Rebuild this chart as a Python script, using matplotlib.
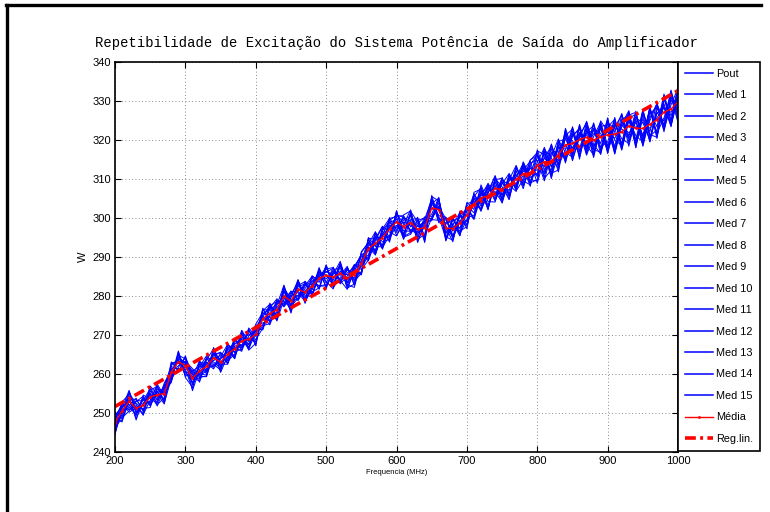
import numpy as np
import matplotlib
matplotlib.use("Agg")
import matplotlib.pyplot as plt
from matplotlib.lines import Line2D

plt.rcParams["font.family"] = ["Liberation Sans", "DejaVu Sans"]

freq = np.arange(200, 1001, 10)  # MHz

pout = [246.0, 251.2, 255.8, 250.1, 253.5, 252.0, 255.3, 253.4, 262.6, 263.5,
        259.8, 259.5, 258.7, 264.4, 263.4, 264.9, 262.9, 267.2, 267.3, 271.3,
        268.1, 274.6, 277.7, 274.0, 281.1, 277.7, 284.1, 279.3, 282.9, 286.3,
        282.4, 285.9, 285.3, 287.6, 282.7, 289.4, 290.5, 296.2, 292.0, 298.2,
        297.4, 300.3, 296.6, 298.6, 300.2, 299.8, 302.8, 299.9, 295.6, 298.8,
        302.9, 299.9, 306.3, 308.1, 305.6, 310.4, 305.8, 310.6, 314.0, 309.0,
        309.8, 318.1, 313.0, 318.8, 314.5, 320.9, 323.1, 317.8, 324.4, 317.2,
        324.9, 318.2, 326.6, 319.5, 324.7, 318.9, 327.3, 323.4, 331.8, 325.1,
        333.0]
med01 = [249.3, 247.7, 253.6, 253.5, 250.6, 254.9, 251.8, 256.5, 259.7, 260.4,
         264.7, 257.2, 262.6, 260.0, 265.6, 260.6, 267.8, 265.4, 269.0, 266.3,
         272.3, 272.4, 272.9, 278.4, 279.3, 280.9, 279.3, 283.0, 281.0, 282.1,
         288.0, 282.4, 288.5, 283.3, 286.7, 285.4, 294.6, 291.6, 296.1, 294.2,
         301.8, 295.9, 301.2, 294.2, 298.0, 304.6, 298.8, 298.4, 299.6, 296.6,
         297.8, 305.2, 301.7, 307.0, 310.6, 304.6, 310.9, 307.0, 309.8, 314.8,
         316.8, 310.4, 318.7, 313.9, 321.5, 314.7, 321.2, 324.4, 316.6, 324.6,
         316.8, 324.7, 319.1, 327.4, 318.7, 325.5, 319.6, 328.6, 323.9, 332.5,
         326.5]
med02 = [245.1, 250.4, 251.3, 252.9, 254.3, 251.8, 256.2, 254.6, 258.5, 264.4,
         262.6, 261.0, 257.9, 263.1, 261.7, 265.4, 264.1, 269.0, 266.1, 269.8,
         271.7, 271.3, 276.9, 279.3, 277.5, 280.0, 280.9, 278.6, 285.2, 283.5,
         286.9, 287.3, 283.1, 285.1, 288.1, 286.8, 289.2, 294.8, 297.9, 293.8,
         300.5, 300.6, 297.7, 300.2, 294.5, 305.5, 304.4, 294.9, 300.3, 295.5,
         302.1, 303.5, 302.4, 308.7, 304.7, 308.8, 311.4, 307.5, 312.9, 308.1,
         317.5, 312.2, 317.8, 311.8, 321.1, 322.8, 315.6, 322.7, 315.5, 323.2,
         317.7, 325.8, 318.0, 325.6, 326.6, 320.0, 328.6, 320.8, 329.3, 323.4,
         334.2]
med03 = [248.2, 252.4, 250.2, 251.3, 249.9, 256.6, 253.2, 257.2, 261.9, 261.2,
         261.2, 256.1, 263.2, 260.5, 266.2, 261.7, 266.6, 263.9, 270.6, 267.4,
         272.8, 275.8, 274.4, 275.1, 282.6, 276.2, 282.7, 283.7, 279.9, 287.0,
         283.7, 281.8, 287.8, 282.0, 283.1, 291.4, 293.6, 290.7, 295.7, 299.6,
         295.6, 298.3, 302.1, 295.0, 299.4, 301.0, 305.3, 295.2, 294.3, 301.3,
         297.2, 306.6, 307.4, 302.6, 308.5, 303.8, 309.8, 313.5, 308.4, 312.9,
         310.6, 316.9, 310.1, 320.0, 316.8, 315.6, 323.8, 316.4, 322.8, 319.1,
         325.7, 316.5, 324.8, 320.8, 327.4, 318.4, 325.7, 329.3, 322.1, 331.1,
         324.4]
med04 = [250.1, 249.1, 254.4, 248.6, 252.6, 252.9, 257.0, 252.5, 258.9, 265.2,
         259.4, 260.3, 260.1, 259.7, 266.8, 262.5, 262.5, 268.4, 268.2, 270.4,
         267.5, 276.7, 273.2, 277.3, 278.2, 281.3, 278.8, 281.9, 284.7, 281.7,
         287.4, 283.6, 283.4, 286.7, 285.6, 286.0, 295.0, 292.7, 292.6, 298.8,
         299.7, 294.5, 299.6, 299.9, 293.7, 304.2, 300.6, 300.2, 297.9, 296.2,
         304.0, 302.2, 308.0, 302.1, 310.1, 308.0, 304.7, 312.1, 307.5, 314.1,
         314.8, 309.5, 316.9, 317.2, 315.3, 323.4, 317.2, 322.1, 323.7, 316.3,
         323.3, 325.3, 318.4, 326.8, 318.1, 327.6, 321.4, 320.7, 330.6, 326.2,
         331.7]
med05 = [246.9, 248.2, 255.2, 252.2, 249.4, 255.6, 254.0, 255.8, 257.8, 265.7,
         260.6, 257.9, 261.8, 264.7, 262.5, 261.0, 267.2, 264.3, 271.1, 266.5,
         270.5, 276.2, 277.9, 274.3, 280.2, 275.9, 283.8, 278.9, 281.6, 287.3,
         281.9, 286.7, 287.2, 282.5, 287.7, 290.3, 289.7, 295.9, 293.9, 294.5,
         301.9, 295.2, 296.3, 297.9, 299.0, 299.3, 304.7, 297.6, 293.9, 301.8,
         301.3, 300.5, 308.5, 304.2, 304.1, 309.8, 308.4, 306.8, 314.4, 310.7,
         317.2, 316.3, 311.5, 312.3, 323.0, 317.6, 322.0, 316.1, 320.9, 324.5,
         318.6, 323.4, 326.3, 318.4, 325.7, 324.4, 320.2, 327.8, 328.1, 324.1,
         332.6]
med06 = [249.5, 251.6, 252.2, 249.3, 254.6, 253.6, 252.5, 257.7, 260.8, 262.1,
         264.1, 258.8, 258.3, 263.6, 266.5, 260.4, 264.6, 269.2, 266.7, 271.0,
         268.8, 271.8, 277.5, 278.6, 277.6, 280.7, 279.9, 283.4, 280.3, 285.1,
         286.1, 287.1, 284.0, 281.7, 287.0, 290.8, 289.0, 294.2, 297.8, 296.4,
         295.4, 299.5, 300.5, 293.7, 298.8, 305.2, 299.7, 299.5, 296.6, 300.9,
         299.0, 306.3, 303.0, 307.6, 306.8, 304.0, 311.3, 308.6, 312.2, 314.6,
         308.9, 315.5, 318.4, 313.4, 317.5, 323.2, 315.1, 323.8, 317.8, 324.9,
         322.2, 316.9, 325.4, 326.1, 318.0, 326.9, 322.1, 329.7, 323.0, 330.2,
         327.7]
med07 = [244.7, 252.8, 254.9, 251.2, 251.2, 251.4, 256.6, 255.1, 263.1, 260.7,
         263.3, 261.4, 259.4, 259.3, 264.9, 265.6, 263.3, 265.1, 271.2, 268.3,
         272.0, 274.8, 272.6, 277.6, 282.8, 277.1, 283.4, 280.5, 284.0, 282.6,
         282.9, 285.5, 288.9, 282.9, 282.2, 288.9, 294.4, 291.0, 297.2, 299.9,
         300.3, 295.1, 295.8, 299.4, 300.0, 300.4, 303.1, 294.3, 299.8, 297.3,
         303.4, 301.3, 306.7, 302.4, 309.8, 310.2, 305.5, 312.9, 309.5, 308.5,
         315.9, 311.3, 315.7, 320.3, 314.1, 321.2, 322.7, 318.6, 316.2, 324.0,
         316.5, 324.0, 320.3, 319.1, 327.0, 320.7, 328.1, 321.5, 331.2, 323.7,
         330.7]
med08 = [248.7, 248.8, 250.5, 253.2, 253.1, 256.3, 252.1, 254.0, 259.3, 265.9,
         259.1, 256.6, 262.9, 262.8, 261.3, 264.4, 267.6, 265.7, 266.4, 271.6,
         267.2, 276.5, 276.4, 273.8, 282.1, 279.2, 279.0, 282.6, 285.1, 284.0,
         287.7, 282.1, 284.7, 287.2, 284.2, 286.3, 293.3, 296.5, 292.4, 295.5,
         301.1, 298.6, 297.0, 295.8, 300.3, 299.6, 299.4, 300.1, 295.1, 300.6,
         298.3, 305.8, 302.0, 306.2, 310.9, 305.9, 310.6, 307.4, 314.2, 309.8,
         309.5, 317.6, 315.3, 312.7, 322.3, 314.9, 320.6, 324.7, 317.5, 316.9,
         325.4, 317.6, 324.1, 327.5, 319.8, 326.4, 319.5, 327.0, 324.8, 332.8,
         325.6]
med09 = [246.5, 252.1, 254.0, 248.2, 254.0, 252.5, 255.7, 252.8, 262.9, 262.7,
         262.4, 260.6, 259.8, 264.0, 262.0, 263.8, 266.0, 264.0, 269.7, 266.8,
         272.5, 273.1, 273.9, 279.0, 277.2, 279.5, 284.2, 278.4, 282.2, 286.6,
         283.3, 287.4, 283.8, 285.9, 287.4, 285.6, 292.5, 290.5, 296.9, 299.0,
         296.3, 300.8, 301.8, 294.5, 295.9, 303.7, 305.1, 294.1, 298.6, 295.4,
         303.7, 304.2, 304.0, 308.4, 304.3, 309.0, 307.0, 313.3, 308.1, 313.5,
         316.4, 310.1, 312.4, 319.6, 320.3, 316.4, 324.0, 317.5, 323.0, 321.7,
         317.3, 322.3, 326.8, 320.2, 325.3, 318.6, 326.6, 328.6, 322.5, 329.0,
         333.3]
med10 = [247.7, 250.9, 251.8, 253.8, 250.3, 256.9, 254.8, 252.3, 262.2, 263.8,
         260.2, 260.7, 262.1, 261.0, 265.2, 265.2, 262.6, 266.9, 265.8, 271.8,
         269.6, 276.9, 273.5, 276.0, 281.6, 275.6, 282.4, 283.1, 280.6, 284.9,
         287.2, 284.0, 288.4, 281.9, 286.3, 290.1, 289.4, 295.4, 292.1, 297.6,
         299.1, 294.8, 301.7, 299.0, 294.1, 305.8, 300.0, 298.7, 300.1, 295.9,
         299.6, 305.5, 307.8, 303.2, 309.3, 305.0, 311.1, 308.2, 313.3, 309.2,
         314.3, 318.0, 311.0, 318.3, 315.7, 322.3, 317.9, 323.4, 315.9, 323.5,
         323.9, 316.4, 323.5, 327.1, 319.2, 327.3, 321.0, 322.6, 330.9, 324.7,
         333.8]
med11 = [245.6, 249.7, 255.6, 249.9, 252.1, 255.1, 253.5, 256.9, 258.1, 264.8,
         263.9, 255.7, 261.1, 263.8, 263.1, 261.4, 266.5, 267.8, 267.5, 267.8,
         271.3, 271.6, 278.2, 274.7, 282.4, 277.4, 279.4, 283.8, 281.7, 286.0,
         284.4, 286.5, 283.4, 287.4, 283.0, 291.1, 293.8, 291.4, 297.5, 295.1,
         301.4, 296.7, 296.6, 299.6, 295.4, 300.1, 304.9, 296.0, 299.3, 300.1,
         302.5, 299.6, 305.6, 308.9, 305.9, 309.4, 304.8, 312.6, 310.4, 313.3,
         311.0, 317.1, 310.4, 316.6, 321.6, 315.9, 323.3, 316.9, 324.2, 318.2,
         319.5, 325.5, 317.6, 325.4, 321.1, 319.5, 328.4, 320.4, 329.9, 331.9,
         325.0]
med12 = [248.9, 251.9, 250.8, 251.9, 249.6, 253.3, 257.4, 254.3, 258.6, 261.7,
         264.4, 260.1, 259.1, 259.5, 266.0, 263.2, 263.8, 268.6, 270.4, 266.1,
         267.9, 275.2, 277.1, 273.6, 279.1, 281.1, 281.2, 279.2, 284.9, 281.9,
         287.9, 283.0, 286.4, 284.1, 287.8, 287.4, 290.2, 296.3, 292.8, 300.1,
         296.8, 300.0, 299.2, 294.8, 299.7, 304.8, 299.0, 300.0, 294.6, 299.5,
         298.1, 304.9, 302.3, 306.6, 309.5, 304.4, 309.5, 311.1, 308.9, 314.9,
         316.1, 313.1, 319.0, 313.0, 320.6, 319.8, 316.3, 324.8, 318.9, 316.4,
         325.1, 319.9, 318.7, 326.4, 327.1, 319.8, 325.0, 329.2, 323.4, 330.6,
         329.9]
med13 = [244.5, 251.4, 253.2, 250.6, 253.8, 252.2, 255.5, 256.2, 261.4, 261.4,
         261.7, 259.1, 263.4, 261.3, 262.2, 264.1, 265.6, 264.6, 270.0, 270.0,
         270.9, 272.1, 274.9, 278.8, 277.9, 280.3, 283.6, 278.1, 283.2, 282.5,
         282.6, 286.2, 284.2, 286.8, 283.8, 285.8, 294.8, 294.6, 293.0, 299.4,
         300.7, 300.2, 296.1, 298.2, 295.0, 304.3, 300.4, 294.7, 298.3, 301.4,
         300.7, 300.1, 307.3, 302.2, 310.3, 305.7, 310.4, 307.9, 313.7, 310.4,
         311.5, 316.7, 311.6, 319.5, 315.0, 321.8, 316.9, 321.8, 322.4, 317.7,
         324.4, 323.0, 317.4, 324.9, 320.1, 327.8, 320.6, 326.9, 328.6, 323.6,
         331.2]
med14 = [249.8, 248.4, 252.7, 252.5, 250.8, 254.5, 252.8, 257.0, 261.1, 263.2,
         262.9, 257.6, 262.4, 262.3, 265.3, 261.9, 267.4, 266.3, 267.0, 269.3,
         268.3, 275.4, 276.5, 277.9, 278.7, 276.8, 284.0, 280.1, 279.9, 285.7,
         285.4, 282.7, 288.1, 283.5, 287.2, 290.6, 291.5, 291.9, 296.6, 294.8,
         298.1, 295.6, 300.9, 296.4, 299.2, 299.5, 303.9, 298.0, 295.0, 301.1,
         301.6, 306.0, 303.5, 307.8, 305.0, 310.1, 306.3, 310.8, 313.1, 308.6,
         313.5, 311.8, 316.6, 314.7, 322.6, 317.1, 321.7, 318.4, 321.6, 322.8,
         318.3, 324.2, 322.8, 321.3, 326.1, 321.2, 327.7, 321.7, 325.7, 331.3,
         328.2]
med15 = [248.4, 252.6, 251.4, 249.7, 252.3, 255.9, 256.8, 253.1, 260.0, 263.9,
         263.1, 259.8, 259.5, 260.8, 264.3, 262.2, 263.6, 267.7, 269.3, 268.6,
         271.0, 272.7, 275.3, 275.6, 281.3, 278.9, 280.2, 281.2, 283.5, 285.4,
         286.3, 285.0, 285.6, 285.5, 284.6, 287.9, 292.9, 292.9, 295.4, 297.7,
         298.0, 298.9, 298.2, 296.1, 297.6, 303.4, 302.4, 296.5, 297.7, 297.5,
         299.4, 303.8, 306.2, 305.1, 306.2, 307.6, 308.2, 308.9, 311.9, 312.7,
         312.2, 315.4, 313.3, 317.9, 317.9, 318.1, 320.9, 321.3, 318.5, 321.1,
         322.0, 320.4, 323.8, 321.8, 323.4, 324.5, 323.0, 325.7, 328.3, 327.1,
         329.6]

series = [pout, med01, med02, med03, med04, med05, med06, med07, med08,
          med09, med10, med11, med12, med13, med14, med15]
labels = ["Pout"] + [f"Med {i}" for i in range(1, 16)]

# average of all runs and its least-squares line
media = np.mean(np.array(series), axis=0)
coef = np.polyfit(freq, media, 1)
reg = np.polyval(coef, freq)

fig = plt.figure(figsize=(7.70, 5.12), dpi=100)
ax = fig.add_axes([0.1494, 0.1172, 0.7312, 0.7617])

for s, lab in zip(series, labels):
    ax.plot(freq, s, color="#0000ff", lw=0.7, label=lab)
ax.plot(freq, media, color="#ff0000", lw=1.0, marker=".", ms=2, label="Média")
ax.plot(freq, reg, color="#ff0000", lw=2.6, ls=(0, (3, 1.2, 0.8, 1.2)), label="Reg.lin.")

ax.set_xlim(200, 1000)
ax.set_ylim(240, 340)
ax.set_xticks(np.arange(200, 1001, 100))
ax.set_yticks(np.arange(240, 341, 10))
ax.grid(True, ls=(0, (1, 3)), color="#666666", lw=0.6)
ax.tick_params(direction="in", length=4, labelsize=8, top=True, right=True, pad=3)
for sp in ax.spines.values():
    sp.set_linewidth(1.2)

ax.set_title("Repetibilidade de Excitação do Sistema Potência de Saída do Amplificador",
             family="Liberation Mono", fontsize=10, pad=11)
ax.set_xlabel("Frequencia (MHz)", fontsize=5.5, labelpad=2)
ax.set_ylabel("W", fontsize=8, labelpad=3)

leg = ax.legend(loc="upper left", bbox_to_anchor=(1.0, 1.0), borderaxespad=0,
                fontsize=7.8, handlelength=2.6, handletextpad=0.3,
                labelspacing=1.06, borderpad=0.62, fancybox=False, framealpha=1)
leg.get_frame().set_edgecolor("black")
leg.get_frame().set_linewidth(1.2)
for h in leg.get_lines()[:16]:
    h.set_linewidth(1.1)

# outer frame lines (top and left)
fig.add_artist(Line2D([6 / 770, 761 / 770], [1 - 5 / 512, 1 - 5 / 512],
                      transform=fig.transFigure, color="black", lw=2.4))
fig.add_artist(Line2D([7 / 770, 7 / 770], [0, 1 - 5 / 512],
                      transform=fig.transFigure, color="black", lw=2.4))

fig.savefig("out.png", dpi=100)
